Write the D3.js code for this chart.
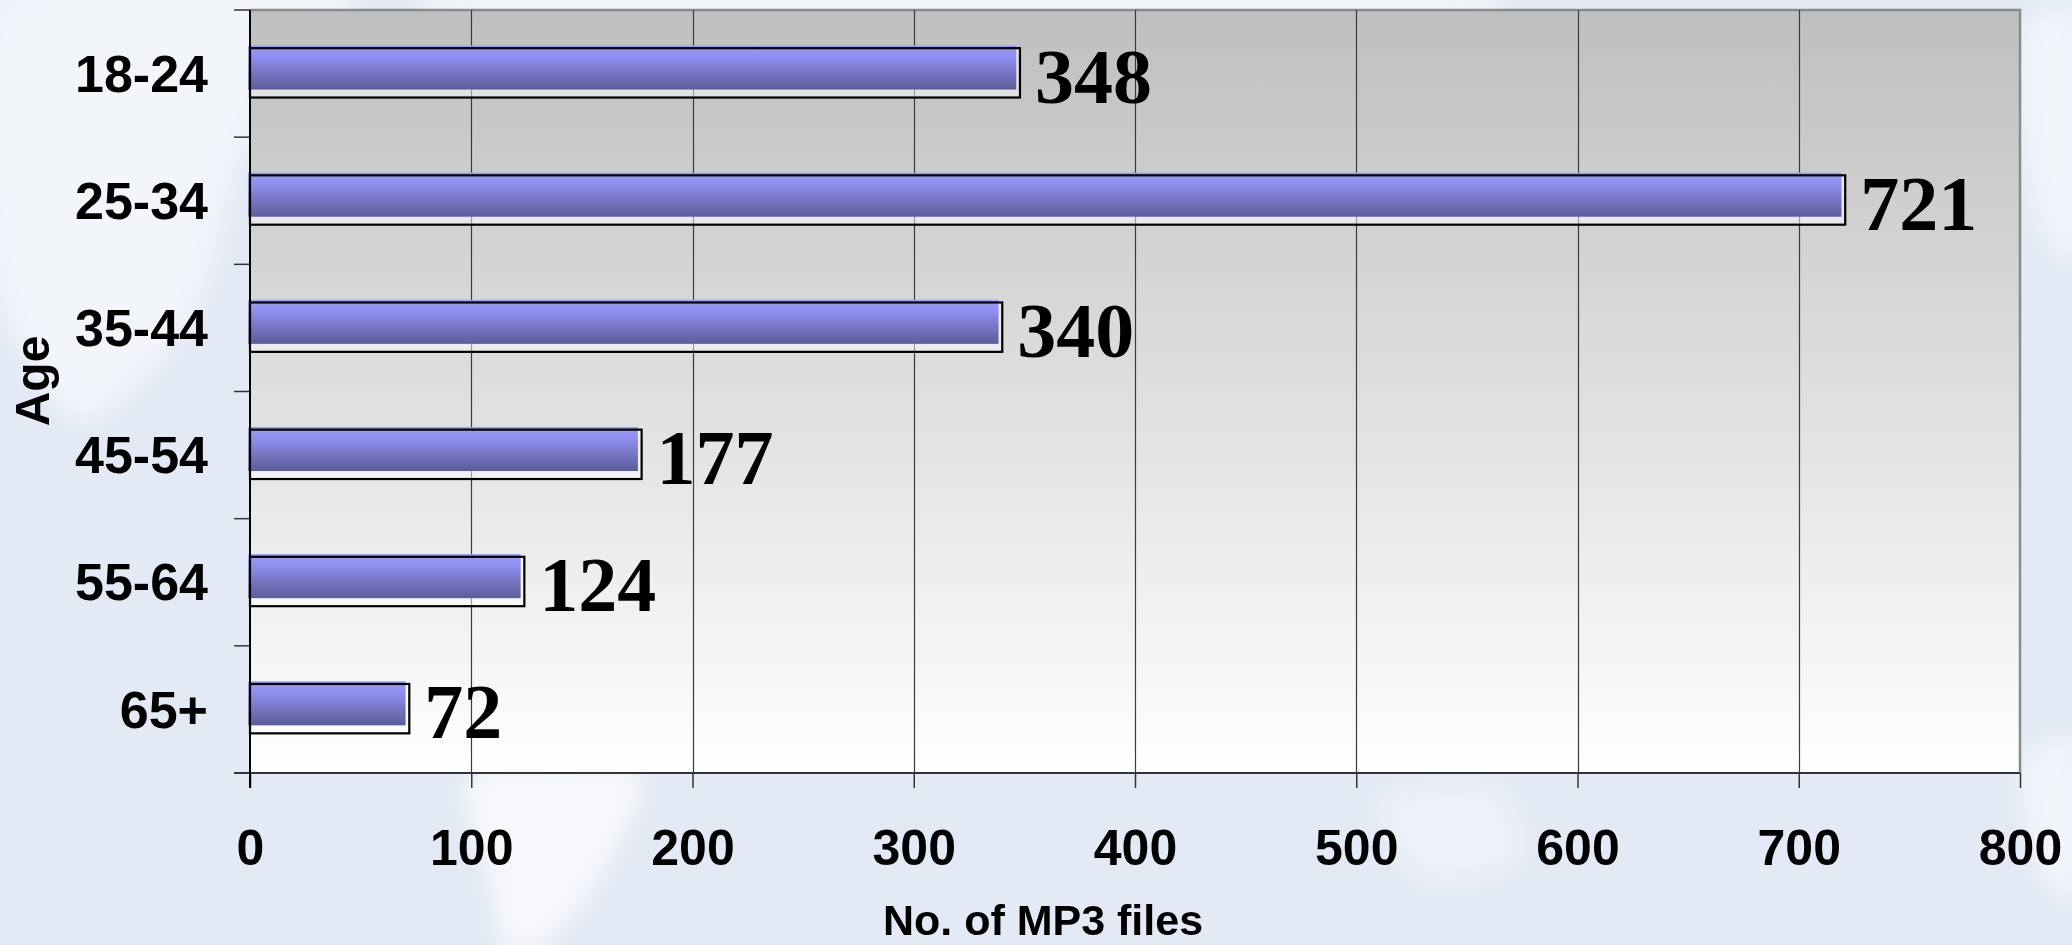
<!DOCTYPE html>
<html>
<head>
<meta charset="utf-8">
<script src="https://cdn.jsdelivr.net/npm/d3@7"></script>
<style>
  html, body { margin: 0; padding: 0; background: #e4eaf5; }
  svg { display: block; }
</style>
</head>
<body>
<svg id="chart" width="2072" height="945"></svg>
<script>
// Age groups and number of MP3 files per group
const ageGroups = ["18-24", "25-34", "35-44", "45-54", "55-64", "65+"];
const mp3Files = [348, 721, 340, 177, 124, 72];
const xTicks = [0, 100, 200, 300, 400, 500, 600, 700, 800];
const xTitle = "No. of MP3 files";
const yTitle = "Age";

const W = 2072, H = 945;
const plot = { left: 250, right: 2020, top: 10, bottom: 773 };

const svg = d3.select("#chart");
const defs = svg.append("defs");

// faint world-map backdrop
const blur = defs.append("filter").attr("id", "soft").attr("x", "-20%").attr("y", "-20%").attr("width", "140%").attr("height", "140%");
blur.append("feGaussianBlur").attr("stdDeviation", 9);

svg.append("rect").attr("width", W).attr("height", H).attr("fill", "#e4eaf5");
const land = svg.append("g").attr("filter", "url(#soft)").attr("fill", "#ffffff");
const shapes = [
  { o: 0.5, p: [[0,0],[360,0],[300,50],[240,160],[200,300],[140,380],[80,420],[30,360],[0,300]] },
  { o: 0.45, p: [[420,0],[1500,0],[1500,14],[420,14]] },
  { o: 0.65, p: [[470,778],[640,778],[620,840],[580,905],[540,945],[505,945],[490,880],[470,820]] },
  { o: 0.5, p: [[2030,20],[2072,10],[2072,260],[2040,220]] },
  { o: 0.5, p: [[2025,760],[2072,740],[2072,900],[2040,870]] },
  { o: 0.3, p: [[1380,800],[1500,790],[1520,860],[1420,880]] }
];
shapes.forEach(s => {
  land.append("path")
    .attr("d", d3.line().curve(d3.curveCatmullRomClosed)(s.p))
    .attr("opacity", s.o);
});

// scales
const x = d3.scaleLinear().domain([0, 800]).range([plot.left, plot.right]);
const y = d3.scaleBand().domain(ageGroups).range([plot.top, plot.bottom])
  .paddingInner(0.6).paddingOuter(0.3);

// plot area gradient (grey to white)
const bg = defs.append("linearGradient").attr("id", "plotBg")
  .attr("x1", 0).attr("y1", 0).attr("x2", 0).attr("y2", 1);
bg.append("stop").attr("offset", "0%").attr("stop-color", "#bfbfbf");
bg.append("stop").attr("offset", "55%").attr("stop-color", "#e2e2e2");
bg.append("stop").attr("offset", "100%").attr("stop-color", "#ffffff");

svg.append("rect")
  .attr("x", plot.left).attr("y", plot.top)
  .attr("width", plot.right - plot.left).attr("height", plot.bottom - plot.top)
  .attr("fill", "url(#plotBg)");

// top and right border of the plot area
svg.append("path")
  .attr("d", `M${plot.left},${plot.top}H${plot.right}V${plot.bottom}`)
  .attr("fill", "none").attr("stroke", "#8a8a8a").attr("stroke-width", 2.5);

// vertical gridlines
svg.append("g").selectAll("line")
  .data(xTicks.filter(t => t > 0 && t < 800))
  .join("line")
  .attr("x1", d => Math.round(x(d)) + 0.5).attr("x2", d => Math.round(x(d)) + 0.5)
  .attr("y1", plot.top).attr("y2", plot.bottom)
  .attr("stroke", "#3a3a3a").attr("stroke-width", 1.2);

// bar gradient
const barGrad = defs.append("linearGradient").attr("id", "barFill")
  .attr("x1", 0).attr("y1", 0).attr("x2", 0).attr("y2", 1);
[["0%", "#9a9aff"], ["25%", "#9090f2"], ["60%", "#7777c6"], ["100%", "#5c5c97"]]
  .forEach(([o, c]) => barGrad.append("stop").attr("offset", o).attr("stop-color", c));

const bw = y.bandwidth();
const bars = svg.append("g").selectAll("g").data(ageGroups.map((a, i) => ({ a, v: mp3Files[i] }))).join("g");

// backing box
bars.append("rect")
  .attr("x", x(0)).attr("y", d => y(d.a))
  .attr("width", d => x(d.v) - x(0)).attr("height", bw - 1.5)
  .attr("fill", "#ffffff").attr("fill-opacity", 0.5);
// gradient face
bars.append("rect")
  .attr("x", x(0) - 1.7).attr("y", d => y(d.a) - 2.7)
  .attr("width", d => x(d.v) - x(0) - 2).attr("height", bw - 6.8)
  .attr("fill", "url(#barFill)");
// outline
bars.append("rect")
  .attr("x", x(0)).attr("y", d => y(d.a))
  .attr("width", d => x(d.v) - x(0)).attr("height", bw - 1.5)
  .attr("fill", "none").attr("stroke", "#000").attr("stroke-width", 2.2);

// value labels
bars.append("text")
  .attr("x", d => x(d.v) + 15)
  .attr("y", d => y(d.a) + bw / 2 + 29)
  .attr("font-family", "'Liberation Serif', 'Times New Roman', serif")
  .attr("font-weight", "bold").attr("font-size", 78)
  .attr("fill", "#000")
  .text(d => d.v);

// category axis
const yAxis = svg.append("g")
  .attr("transform", `translate(${plot.left},0)`)
  .call(d3.axisLeft(y).tickSize(0).tickPadding(42));
yAxis.select(".domain").remove();
yAxis.selectAll("text")
  .attr("font-family", "'Liberation Sans', Arial, sans-serif")
  .attr("font-weight", "bold").attr("font-size", 52).attr("fill", "#000")
  .attr("dy", "0.35em");

// category tick marks at band boundaries
const bounds = d3.range(ageGroups.length + 1).map(i => plot.top + i * y.step());
svg.append("g").selectAll("line").data(bounds).join("line")
  .attr("x1", plot.left - 16).attr("x2", plot.left)
  .attr("y1", d => d).attr("y2", d => d)
  .attr("stroke", "#333").attr("stroke-width", 1.5);

// value axis
const xAxis = svg.append("g")
  .attr("transform", `translate(0,${plot.bottom})`)
  .call(d3.axisBottom(x).tickValues(xTicks).tickSize(15).tickPadding(41).tickFormat(d3.format("d")));
xAxis.select(".domain").remove();
xAxis.selectAll(".tick line").attr("stroke", "#333").attr("stroke-width", 1.5);
xAxis.selectAll("text")
  .attr("font-family", "'Liberation Sans', Arial, sans-serif")
  .attr("font-weight", "bold").attr("font-size", 50).attr("fill", "#000");

// axis lines
svg.append("line")
  .attr("x1", plot.left - 16).attr("x2", plot.right)
  .attr("y1", plot.bottom).attr("y2", plot.bottom)
  .attr("stroke", "#333").attr("stroke-width", 2);
svg.append("line")
  .attr("x1", plot.left).attr("x2", plot.left)
  .attr("y1", plot.top).attr("y2", plot.bottom + 15)
  .attr("stroke", "#000").attr("stroke-width", 2);

// axis titles
svg.append("text")
  .attr("x", 1043).attr("y", 935)
  .attr("text-anchor", "middle")
  .attr("font-family", "'Liberation Sans', Arial, sans-serif")
  .attr("font-weight", "bold").attr("font-size", 43).attr("fill", "#000")
  .text(xTitle);
svg.append("text")
  .attr("transform", "translate(49,381) rotate(-90)")
  .attr("text-anchor", "middle")
  .attr("font-family", "'Liberation Sans', Arial, sans-serif")
  .attr("font-weight", "bold").attr("font-size", 48).attr("fill", "#000")
  .text(yTitle);
</script>
</body>
</html>
